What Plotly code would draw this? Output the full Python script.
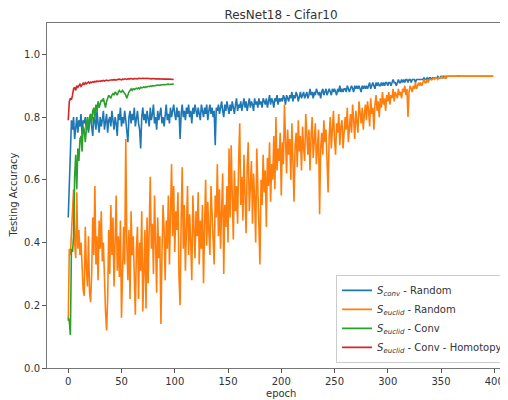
import plotly.graph_objects as go

title_text = "ResNet18 - Cifar10"
x_label = "epoch"
y_label = "Testing Accuracy"
x_ticks = [0, 50, 100, 150, 200, 250, 300, 350, 400]
y_ticks = [0.0, 0.2, 0.4, 0.6, 0.8, 1.0]
y_tick_labels = ["0.0", "0.2", "0.4", "0.6", "0.8", "1.0"]

names = [
    "<i>S</i><sub><i>conv</i></sub> - Random",
    "<i>S</i><sub><i>euclid</i></sub> - Random",
    "<i>S</i><sub><i>euclid</i></sub> - Conv",
    "<i>S</i><sub><i>euclid</i></sub> - Conv - Homotopy",
]
colors = ["#1f77b4", "#ff7f0e", "#2ca02c", "#d62728"]

conv_random = [
    0.48, 0.60, 0.74, 0.79, 0.76, 0.80, 0.73, 0.78, 0.80, 0.75, 0.79, 0.77, 0.81, 0.74, 0.79, 0.78, 0.80, 0.76, 0.79, 0.75,
    0.78, 0.81, 0.77, 0.74, 0.80, 0.79, 0.76, 0.82, 0.78, 0.75, 0.80, 0.77, 0.79, 0.82, 0.76, 0.78, 0.81, 0.75, 0.79, 0.80,
    0.77, 0.82, 0.79, 0.76, 0.80, 0.78, 0.74, 0.81, 0.79, 0.83, 0.77, 0.80, 0.78, 0.82, 0.79, 0.76, 0.72, 0.80, 0.82, 0.78,
    0.81, 0.79, 0.83, 0.77, 0.80, 0.82, 0.78, 0.76, 0.70, 0.80, 0.83, 0.79, 0.81, 0.78, 0.82, 0.80, 0.77, 0.83, 0.79, 0.81,
    0.84, 0.78, 0.80, 0.76, 0.82, 0.79, 0.81, 0.83, 0.78, 0.80, 0.77, 0.82, 0.84, 0.79, 0.81, 0.78, 0.83, 0.80, 0.82, 0.84,
    0.81, 0.79, 0.83, 0.80, 0.82, 0.73, 0.81, 0.84, 0.80, 0.82, 0.79, 0.83, 0.81, 0.84, 0.80, 0.82, 0.78, 0.83, 0.81, 0.84,
    0.82, 0.80, 0.83, 0.81, 0.79, 0.84, 0.82, 0.80, 0.83, 0.81, 0.84, 0.79, 0.82, 0.84, 0.81, 0.83, 0.80, 0.82, 0.71, 0.83,
    0.82, 0.84, 0.81, 0.83, 0.85, 0.82, 0.80, 0.84, 0.82, 0.85, 0.83, 0.81, 0.84, 0.82, 0.85, 0.83, 0.81, 0.84, 0.86, 0.82,
    0.84, 0.83, 0.85, 0.82, 0.84, 0.86, 0.83, 0.85, 0.82, 0.84, 0.86, 0.83, 0.85, 0.84, 0.82, 0.86, 0.84, 0.85, 0.83, 0.86,
    0.84, 0.85, 0.83, 0.86, 0.85, 0.84, 0.86, 0.83, 0.85, 0.87, 0.84, 0.86, 0.85, 0.83, 0.86, 0.85, 0.87, 0.84, 0.86, 0.85,
    0.86, 0.85, 0.87, 0.86, 0.84, 0.87, 0.86, 0.85, 0.87, 0.86, 0.88, 0.85, 0.87, 0.86, 0.88, 0.87, 0.85, 0.87, 0.88, 0.86,
    0.87, 0.88, 0.86, 0.87, 0.88, 0.86, 0.87, 0.89, 0.87, 0.88, 0.86, 0.88, 0.87, 0.89, 0.88, 0.87, 0.88, 0.86, 0.88, 0.89,
    0.87, 0.88, 0.89, 0.87, 0.88, 0.89, 0.88, 0.87, 0.89, 0.88, 0.89, 0.88, 0.87, 0.89, 0.88, 0.90, 0.88, 0.89, 0.88, 0.89,
    0.89, 0.88, 0.90, 0.89, 0.88, 0.89, 0.90, 0.89, 0.88, 0.90, 0.89, 0.90, 0.89, 0.90, 0.89, 0.88, 0.90, 0.89, 0.90, 0.89,
    0.90, 0.89, 0.90, 0.91, 0.89, 0.90, 0.91, 0.90, 0.89, 0.91, 0.90, 0.91, 0.90, 0.90, 0.91, 0.90, 0.91, 0.90, 0.91, 0.91,
    0.90, 0.91, 0.91, 0.90, 0.91, 0.92, 0.91, 0.91, 0.90, 0.91, 0.92, 0.91, 0.91, 0.92, 0.91, 0.92, 0.91, 0.92, 0.92, 0.91,
    0.92, 0.92, 0.91, 0.92, 0.92, 0.92, 0.91, 0.92, 0.92, 0.92, 0.92, 0.92, 0.92, 0.92, 0.925, 0.92, 0.92, 0.925, 0.92, 0.925,
    0.925, 0.92, 0.925, 0.925, 0.925, 0.925, 0.925, 0.93, 0.925, 0.925, 0.93, 0.925, 0.93, 0.93, 0.925, 0.93, 0.93, 0.93, 0.93, 0.93,
    0.93, 0.93, 0.928, 0.93, 0.93, 0.93, 0.931, 0.93, 0.93, 0.93, 0.93, 0.931, 0.93, 0.93, 0.93, 0.93, 0.931, 0.93, 0.93, 0.93,
    0.93, 0.931, 0.93, 0.93, 0.931, 0.93, 0.93, 0.931, 0.93, 0.93, 0.931, 0.93, 0.93, 0.931, 0.93, 0.93, 0.931, 0.93, 0.931, 0.93,
]

euclid_random = [
    0.15, 0.38, 0.36, 0.42, 0.48, 0.57, 0.40, 0.35, 0.56, 0.38, 0.44, 0.36, 0.40, 0.30, 0.25, 0.23, 0.45, 0.32, 0.26, 0.42,
    0.24, 0.21, 0.30, 0.48, 0.36, 0.58, 0.33, 0.42, 0.28, 0.47, 0.38, 0.50, 0.34, 0.40, 0.27, 0.18, 0.12, 0.22, 0.44, 0.30,
    0.52, 0.36, 0.48, 0.26, 0.40, 0.55, 0.31, 0.42, 0.29, 0.47, 0.16, 0.38, 0.45, 0.33, 0.73, 0.40, 0.28, 0.44, 0.22, 0.50,
    0.36, 0.42, 0.26, 0.17, 0.38, 0.45, 0.22, 0.40, 0.31, 0.50, 0.18, 0.36, 0.44, 0.19, 0.48, 0.27, 0.52, 0.61, 0.38, 0.46,
    0.30, 0.55, 0.40, 0.24, 0.48, 0.35, 0.42, 0.14, 0.36, 0.52, 0.44, 0.28, 0.47, 0.38, 0.55, 0.33, 0.49, 0.65, 0.42, 0.58,
    0.37, 0.50, 0.44, 0.56, 0.29, 0.20, 0.47, 0.64, 0.38, 0.52, 0.31, 0.45, 0.58, 0.36, 0.49, 0.40, 0.28, 0.55, 0.43, 0.35,
    0.50, 0.42, 0.56, 0.33, 0.47, 0.38, 0.52, 0.27, 0.45, 0.60, 0.39, 0.53, 0.44, 0.36, 0.58, 0.47, 0.41, 0.33, 0.55, 0.48,
    0.65, 0.42, 0.57, 0.38, 0.50, 0.62, 0.30, 0.52, 0.45, 0.58, 0.40, 0.70, 0.48, 0.71, 0.55, 0.41, 0.63, 0.50, 0.58, 0.46,
    0.66, 0.78, 0.52, 0.61, 0.47, 0.68, 0.55, 0.43, 0.64, 0.72, 0.50, 0.59, 0.66, 0.46, 0.62, 0.54, 0.40, 0.70, 0.58, 0.49,
    0.33, 0.60, 0.52, 0.68, 0.56, 0.63, 0.45, 0.67, 0.58, 0.72, 0.53, 0.65, 0.60, 0.74, 0.57, 0.80, 0.63, 0.70, 0.66, 0.75,
    0.55, 0.72, 0.65, 0.84, 0.70, 0.62, 0.76, 0.68, 0.73, 0.60, 0.78, 0.66, 0.53, 0.71, 0.75, 0.64, 0.79, 0.69, 0.74, 0.63,
    0.77, 0.70, 0.66, 0.81, 0.72, 0.68, 0.76, 0.63, 0.74, 0.80, 0.67, 0.73, 0.78, 0.65, 0.71, 0.76, 0.49, 0.70, 0.75, 0.68,
    0.79, 0.72, 0.76, 0.66, 0.56, 0.74, 0.80, 0.70, 0.77, 0.82, 0.73, 0.68, 0.78, 0.75, 0.81, 0.71, 0.77, 0.79, 0.70, 0.74,
    0.80, 0.76, 0.83, 0.72, 0.78, 0.81, 0.75, 0.84, 0.79, 0.73, 0.82, 0.77, 0.75, 0.85, 0.80, 0.78, 0.83, 0.76, 0.81, 0.84,
    0.79, 0.85, 0.82, 0.77, 0.86, 0.81, 0.83, 0.76, 0.84, 0.87, 0.82, 0.85, 0.80, 0.86, 0.83, 0.88, 0.84, 0.86, 0.82, 0.87,
    0.85, 0.88, 0.84, 0.87, 0.86, 0.89, 0.85, 0.88, 0.87, 0.86, 0.89, 0.87, 0.88, 0.86, 0.89, 0.88, 0.90, 0.87, 0.89, 0.80,
    0.88, 0.90, 0.89, 0.88, 0.90, 0.89, 0.91, 0.89, 0.90, 0.91, 0.90, 0.91, 0.90, 0.91, 0.92, 0.91, 0.91, 0.92, 0.91, 0.92,
    0.92, 0.92, 0.92, 0.925, 0.92, 0.925, 0.925, 0.92, 0.925, 0.925, 0.925, 0.93, 0.925, 0.925, 0.93, 0.925, 0.93, 0.93, 0.93, 0.93,
    0.93, 0.93, 0.93, 0.931, 0.93, 0.93, 0.93, 0.93, 0.931, 0.93, 0.93, 0.93, 0.931, 0.93, 0.93, 0.93, 0.93, 0.931, 0.93, 0.93,
    0.93, 0.931, 0.93, 0.93, 0.93, 0.931, 0.93, 0.93, 0.93, 0.931, 0.93, 0.93, 0.931, 0.93, 0.93, 0.93, 0.931, 0.93, 0.93, 0.93,
]

euclid_conv = [
    0.16, 0.15, 0.105, 0.38, 0.37, 0.42, 0.61, 0.68, 0.57, 0.70, 0.66, 0.73, 0.74, 0.69, 0.77, 0.76, 0.72, 0.78, 0.80, 0.76,
    0.80, 0.81, 0.78, 0.82, 0.83, 0.79, 0.84, 0.82, 0.85, 0.83, 0.84, 0.855, 0.85, 0.86, 0.845, 0.83, 0.85, 0.86, 0.87, 0.865,
    0.86, 0.87, 0.875, 0.87, 0.88, 0.875, 0.87, 0.88, 0.885, 0.88, 0.88, 0.885, 0.88, 0.875, 0.87, 0.86, 0.875, 0.88, 0.885, 0.89,
    0.885, 0.89, 0.888, 0.89, 0.892, 0.89, 0.893, 0.89, 0.895, 0.893, 0.895, 0.896, 0.894, 0.897, 0.896, 0.898, 0.897, 0.899, 0.898, 0.90,
    0.899, 0.90, 0.901, 0.90, 0.902, 0.901, 0.902, 0.903, 0.902, 0.903, 0.904, 0.903, 0.904, 0.904, 0.905, 0.904, 0.905, 0.905, 0.905, 0.905,
]

euclid_conv_homotopy = [
    0.79, 0.85, 0.86, 0.855, 0.87, 0.89, 0.895, 0.885, 0.90, 0.895, 0.90, 0.905, 0.898, 0.905, 0.908, 0.903, 0.91, 0.906, 0.91, 0.912,
    0.908, 0.912, 0.91, 0.913, 0.911, 0.914, 0.912, 0.915, 0.913, 0.915, 0.914, 0.916, 0.915, 0.917, 0.915, 0.916, 0.918, 0.916, 0.917, 0.918,
    0.917, 0.919, 0.918, 0.92, 0.918, 0.919, 0.92, 0.919, 0.921, 0.92, 0.919, 0.921, 0.92, 0.922, 0.921, 0.92, 0.922, 0.921, 0.922, 0.923,
    0.922, 0.921, 0.923, 0.922, 0.923, 0.922, 0.924, 0.923, 0.922, 0.923, 0.924, 0.923, 0.922, 0.923, 0.924, 0.923, 0.922, 0.923, 0.922, 0.923,
    0.922, 0.923, 0.922, 0.922, 0.923, 0.922, 0.921, 0.922, 0.922, 0.921, 0.922, 0.921, 0.921, 0.922, 0.921, 0.921, 0.921, 0.92, 0.921, 0.92,
]

series = [conv_random, euclid_random, euclid_conv, euclid_conv_homotopy]

FONT = "DejaVu Sans"
fig = go.Figure()
for name, ys, col in zip(names, series, colors):
    fig.add_trace(go.Scatter(
        x=list(range(len(ys))), y=ys, mode="lines", name=name,
        line=dict(color=col, width=1.6),
    ))

axis_common = dict(
    showgrid=False, zeroline=False, showline=True, linecolor="#777",
    linewidth=1, ticks="outside", ticklen=4, tickcolor="#555", tickwidth=1,
    tickfont=dict(family=FONT, size=10, color="#333"), automargin=False,
)

# The page body adds an 8px offset, so the figure is 500x392 placed at (8, 8).
fig.update_layout(
    width=500, height=392,
    margin=dict(l=39, r=0, t=15, b=32, autoexpand=False),
    paper_bgcolor="white", plot_bgcolor="white",
    showlegend=True,
    font=dict(family=FONT, color="#333"),
    title=dict(text=title_text, x=0.5076, xref="paper", xanchor="center",
               y=0.982, yref="container", yanchor="middle",
               font=dict(family=FONT, size=12, color="#333")),
    xaxis=dict(range=[-19.95, 412.9], tickvals=x_ticks, mirror=True, **axis_common),
    yaxis=dict(range=[0, 1.1], tickvals=y_ticks, ticktext=y_tick_labels, **axis_common),
    legend=dict(x=0.627, y=0.015, xanchor="left", yanchor="bottom",
                bgcolor="rgba(255,255,255,0.85)", bordercolor="#ccc", borderwidth=1,
                font=dict(family=FONT, size=10, color="#333"), itemwidth=30),
    annotations=[
        dict(text=x_label, xref="paper", yref="paper", x=0.5076, y=0, yshift=-25,
             showarrow=False, xanchor="center", yanchor="middle",
             font=dict(family=FONT, size=10, color="#333")),
        dict(text=y_label, xref="paper", yref="paper", x=0, y=0.5, xshift=-34,
             showarrow=False, textangle=-90, xanchor="center", yanchor="middle",
             font=dict(family=FONT, size=10, color="#333")),
    ],
)

fig.write_html("out.html")
